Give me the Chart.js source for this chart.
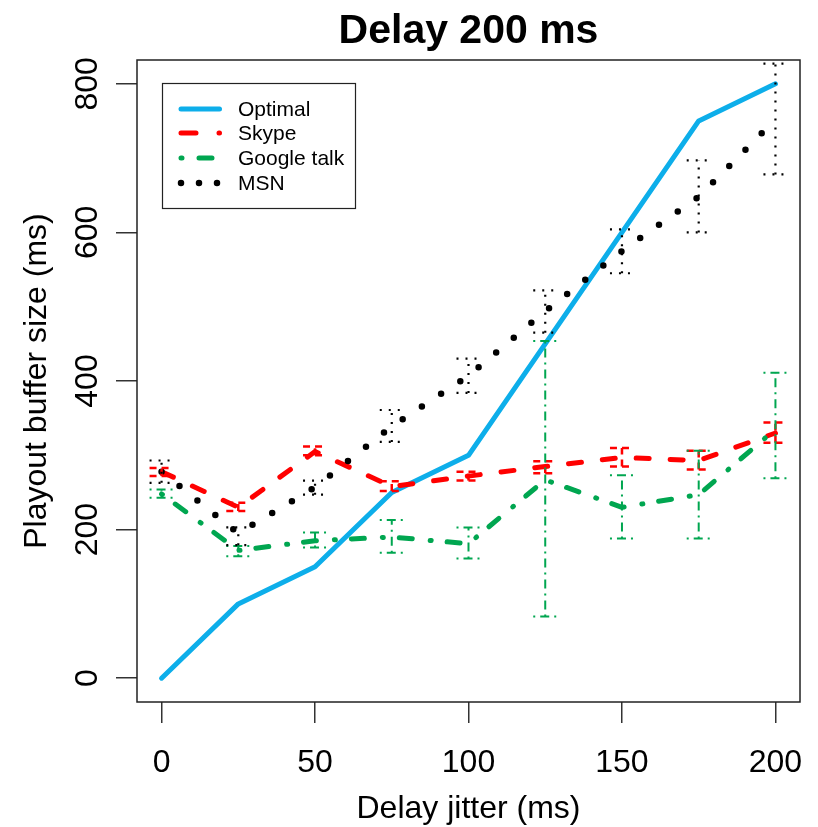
<!DOCTYPE html>
<html><head><meta charset="utf-8">
<script src="https://cdn.jsdelivr.net/npm/chart.js@4.4.1/dist/chart.umd.min.js"></script>
<style>html,body{margin:0;padding:0;background:#fff;}</style>
</head><body>
<canvas id="c" width="818" height="827"></canvas>
<script>
// ---- data ----
const jitter = [0, 25, 50, 75, 100, 125, 150, 175, 200];
const optimal = [0, 100, 150, 250, 300, 450, 600, 750, 800];
const skype     = [278, 230, 305, 258, 272, 285, 297, 293, 330];
const skypeLow  = [272, 225, 300, 252, 266, 276, 285, 281, 317];
const skypeHigh = [283, 236, 312, 265, 278, 292, 310, 306, 344];
const gtalk     = [248, 172, 185, 190, 181, 267, 230, 247, 335];
const gtalkLow  = [243, 164, 176, 169, 161, 83, 188, 188, 269];
const gtalkHigh = [254, 178, 196, 213, 203, 454, 273, 306, 411];
const msn     = [278, 195, 257, 339, 407, 494, 575, 648, 752];
const msnLow  = [263, 179, 247, 318, 384, 465, 545, 600, 678];
const msnHigh = [293, 203, 266, 361, 430, 522, 604, 697, 827];
const xTicks = [0, 50, 100, 150, 200];
const yTicks = [0, 200, 400, 600, 800];
const titleText = 'Delay 200 ms';
const xTitle = 'Delay jitter (ms)';
const yTitle = 'Playout buffer size (ms)';

const FONT = '"Liberation Sans", Arial, sans-serif';
const COL = {opt: '#0DAEEA', sky: '#FF0000', gt: '#00A650', msn: '#000000'};

function pts(arr) { return jitter.map((x, i) => ({x: x, y: arr[i]})); }

const styles = [
  {label: 'Optimal', data: optimal, color: COL.opt, width: 5, dash: [], legendDash: [], order: 3},
  {label: 'Skype', data: skype, color: COL.sky, width: 5, dash: [13, 21], legendDash: [15, 23], order: 2},
  {label: 'Google talk', data: gtalk, color: COL.gt, width: 5, dash: [1, 16, 13, 18], legendDash: [1, 17, 13, 21], order: 1},
  {label: 'MSN', data: msn, color: COL.msn, width: 6.5, dash: [0, 23], legendDash: [0, 18], order: 0}
];

const errBars = [
  {lo: skypeLow, hi: skypeHigh, color: COL.sky, dash: [7, 5], width: 2.5},
  {lo: gtalkLow, hi: gtalkHigh, color: COL.gt, dash: [2, 5, 9, 5], width: 2},
  {lo: msnLow, hi: msnHigh, color: COL.msn, dash: [2, 7], width: 2.2}
];

const decor = {
  id: 'decor',
  afterDatasetsDraw(chart) {
    const ctx = chart.ctx, xs = chart.scales.x, ys = chart.scales.y;
    ctx.save();
    ctx.lineCap = 'butt';
    errBars.forEach(e => {
      ctx.strokeStyle = e.color; ctx.lineWidth = e.width; ctx.setLineDash(e.dash);
      jitter.forEach((v, i) => {
        const px = xs.getPixelForValue(v);
        const y1 = ys.getPixelForValue(e.lo[i]), y2 = ys.getPixelForValue(e.hi[i]);
        ctx.beginPath(); ctx.moveTo(px, y1); ctx.lineTo(px, y2); ctx.stroke();
        ctx.beginPath(); ctx.moveTo(px - 12, y1); ctx.lineTo(px + 12, y1); ctx.stroke();
        ctx.beginPath(); ctx.moveTo(px - 12, y2); ctx.lineTo(px + 12, y2); ctx.stroke();
      });
    });
    ctx.restore();
  },
  afterDraw(chart) {
    const ctx = chart.ctx, a = chart.chartArea, xs = chart.scales.x, ys = chart.scales.y;
    ctx.save();
    // box
    ctx.setLineDash([]);
    ctx.strokeStyle = '#222'; ctx.lineWidth = 1.5;
    ctx.strokeRect(a.left, a.top, a.right - a.left, a.bottom - a.top);
    // tick labels
    ctx.fillStyle = '#000';
    ctx.font = '32px ' + FONT;
    ctx.textAlign = 'center'; ctx.textBaseline = 'alphabetic';
    xs.ticks.forEach(t => ctx.fillText(String(t.value), xs.getPixelForValue(t.value), 772));
    ys.ticks.forEach(t => {
      ctx.save(); ctx.translate(97, ys.getPixelForValue(t.value)); ctx.rotate(-Math.PI / 2);
      ctx.fillText(String(t.value), 0, 0); ctx.restore();
    });
    // axis titles
    ctx.fillText(xTitle, (a.left + a.right) / 2, 818);
    ctx.save(); ctx.translate(46, (a.top + a.bottom) / 2); ctx.rotate(-Math.PI / 2);
    ctx.fillText(yTitle, 0, 0); ctx.restore();
    // title
    ctx.font = 'bold 41px ' + FONT;
    ctx.fillText(titleText, (a.left + a.right) / 2, 43);
    // legend
    ctx.fillStyle = '#fff';
    ctx.fillRect(162, 83, 194, 126);
    ctx.strokeStyle = '#222'; ctx.lineWidth = 1.2;
    ctx.strokeRect(162.5, 83.5, 193, 125);
    ctx.font = '21px ' + FONT; ctx.textAlign = 'left'; ctx.textBaseline = 'middle';
    const rows = [109, 133, 158, 183];
    styles.forEach((s, i) => {
      ctx.save();
      ctx.strokeStyle = s.color; ctx.lineWidth = s.width; ctx.lineCap = 'round';
      ctx.setLineDash(s.legendDash);
      ctx.beginPath(); ctx.moveTo(181, rows[i]); ctx.lineTo(219.5, rows[i]); ctx.stroke();
      ctx.restore();
      ctx.fillStyle = '#000';
      ctx.fillText(s.label, 238, rows[i] + 1);
    });
    ctx.restore();
  }
};

new Chart(document.getElementById('c'), {
  type: 'line',
  data: {
    datasets: styles.map(s => ({
      label: s.label, data: pts(s.data), borderColor: s.color, backgroundColor: s.color,
      borderWidth: s.width, borderDash: s.dash, borderCapStyle: 'round', borderJoinStyle: 'round',
      pointRadius: 0, tension: 0, fill: false, order: s.order
    }))
  },
  options: {
    responsive: false, animation: false, devicePixelRatio: 1,
    layout: {padding: {top: 60, right: 18, left: 0, bottom: 0}},
    plugins: {legend: {display: false}, tooltip: {enabled: false}, title: {display: false}},
    scales: {
      x: {
        type: 'linear', min: -8, max: 208,
        afterBuildTicks: s => { s.ticks = xTicks.map(v => ({value: v})); },
        afterFit: s => { s.height = 125; },
        ticks: {display: false},
        grid: {display: true, drawOnChartArea: false, drawTicks: true, tickLength: 21, color: '#333', lineWidth: 1.5},
        border: {display: false}
      },
      y: {
        type: 'linear', min: -32, max: 832,
        afterBuildTicks: s => { s.ticks = yTicks.map(v => ({value: v})); },
        afterFit: s => { s.width = 137; },
        ticks: {display: false},
        grid: {display: true, drawOnChartArea: false, drawTicks: true, tickLength: 21, color: '#333', lineWidth: 1.5},
        border: {display: false}
      }
    }
  },
  plugins: [decor]
});
</script>
</body></html>
